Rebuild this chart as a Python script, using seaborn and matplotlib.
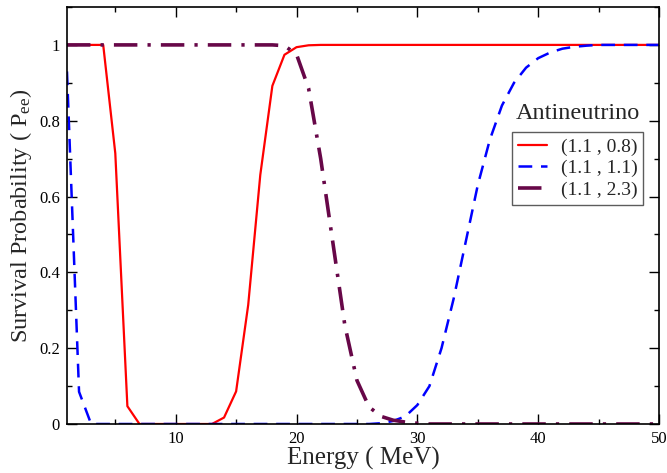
import numpy as np
import pandas as pd
import matplotlib
matplotlib.use("Agg")
import matplotlib.pyplot as plt
import seaborn as sns
from matplotlib.ticker import MultipleLocator

energy = list(range(1, 51))

red_08 = [1.0, 1.0, 1.0, 1.0, 0.714, 0.047, 0.0, 0.0, 0.0, 0.0,
          0.0, 0.0, 0.0, 0.017, 0.086, 0.314, 0.657, 0.892, 0.974, 0.994,
          0.999, 1.0, 1.0, 1.0, 1.0, 1.0, 1.0, 1.0, 1.0, 1.0,
          1.0, 1.0, 1.0, 1.0, 1.0, 1.0, 1.0, 1.0, 1.0, 1.0,
          1.0, 1.0, 1.0, 1.0, 1.0, 1.0, 1.0, 1.0, 1.0, 1.0]

blue_11 = [0.93, 0.085, 0.0, 0.0, 0.0, 0.0, 0.0, 0.0, 0.0, 0.0,
           0.0, 0.0, 0.0, 0.0, 0.0, 0.0, 0.0, 0.0, 0.0, 0.0,
           0.0, 0.0, 0.0, 0.0, 0.0, 0.0, 0.002, 0.008, 0.02, 0.05,
           0.1, 0.2, 0.33, 0.48, 0.63, 0.75, 0.84, 0.9, 0.94, 0.965,
           0.98, 0.99, 0.995, 0.998, 1.0, 1.0, 1.0, 1.0, 1.0, 1.0]

maroon_23 = [1.0, 1.0, 1.0, 1.0, 1.0, 1.0, 1.0, 1.0, 1.0, 1.0,
             1.0, 1.0, 1.0, 1.0, 1.0, 1.0, 1.0, 1.0, 0.998, 0.975,
             0.885, 0.70, 0.48, 0.26, 0.115, 0.045, 0.02, 0.01, 0.005, 0.002,
             0.0, 0.0, 0.0, 0.0, 0.0, 0.0, 0.0, 0.0, 0.0, 0.0,
             0.0, 0.0, 0.0, 0.0, 0.0, 0.0, 0.0, 0.0, 0.0, 0.0]

series_labels = ["(1.1 , 0.8)", "(1.1 , 1.1)", "(1.1 , 2.3)"]
legend_title = "Antineutrino"
x_ticks = [10, 20, 30, 40, 50]
x_ticklabels = ["10", "20", "30", "40", "50"]
y_ticks = [0, 0.2, 0.4, 0.6, 0.8, 1.0]
y_ticklabels = ["0", "0.2", "0.4", "0.6", "0.8", "1"]

sns.set_theme(style="ticks")
plt.rcParams["font.family"] = ["Liberation Serif", "DejaVu Serif"]
plt.rcParams["mathtext.fontset"] = "custom"
plt.rcParams["mathtext.rm"] = "Liberation Serif"
plt.rcParams["mathtext.it"] = "Liberation Serif:italic"

fig = plt.figure(figsize=(6.67, 4.73), dpi=100)
ax = fig.add_axes([0.1004, 0.1036, 0.8876, 0.8816])

df = pd.DataFrame({"E": energy, "a": red_08, "b": blue_11, "c": maroon_23})

sns.lineplot(data=df, x="E", y="a", ax=ax, color="#ff0000", lw=1.6,
             label=series_labels[0])
sns.lineplot(data=df, x="E", y="b", ax=ax, color="#0000ff", lw=1.8,
             linestyle=(0, (5.5, 3.5)), label=series_labels[1])
sns.lineplot(data=df, x="E", y="c", ax=ax, color="#670748", lw=2.6,
             linestyle=(0, (6.5, 2.8, 0.9, 2.8)), label=series_labels[2])

ax.set_xlim(1, 50)
ax.set_ylim(0, 1.1)
ax.set_xticks(x_ticks)
ax.set_xticklabels(x_ticklabels)
ax.set_yticks(y_ticks)
ax.set_yticklabels(y_ticklabels)
ax.xaxis.set_minor_locator(MultipleLocator(5))
ax.yaxis.set_minor_locator(MultipleLocator(0.1))
ax.tick_params(which="both", direction="in", top=True, right=True,
               colors="black", width=1.0)
ax.tick_params(which="major", length=7, labelsize=12, pad=5)
ax.tick_params(which="minor", length=3.5)
for s in ax.spines.values():
    s.set_color("black")
    s.set_linewidth(1.2)

ax.set_xlabel("Energy ( MeV)", fontsize=18, labelpad=0)
ax.set_ylabel("Survival Probability ( P$_{\\mathrm{ee}}$)", fontsize=17.5, labelpad=4)

leg = ax.legend(loc="upper left", bbox_to_anchor=(0.752, 0.70), fontsize=14,
                frameon=True, fancybox=False, edgecolor="#333333",
                handlelength=1.5, handletextpad=0.7, borderpad=0.3,
                labelspacing=0.2, borderaxespad=0)
leg.get_frame().set_linewidth(1.0)
ax.text(0.863, 0.745, legend_title, transform=ax.transAxes, fontsize=17.5,
        ha="center", va="center")

fig.savefig("out.png", dpi=100)
